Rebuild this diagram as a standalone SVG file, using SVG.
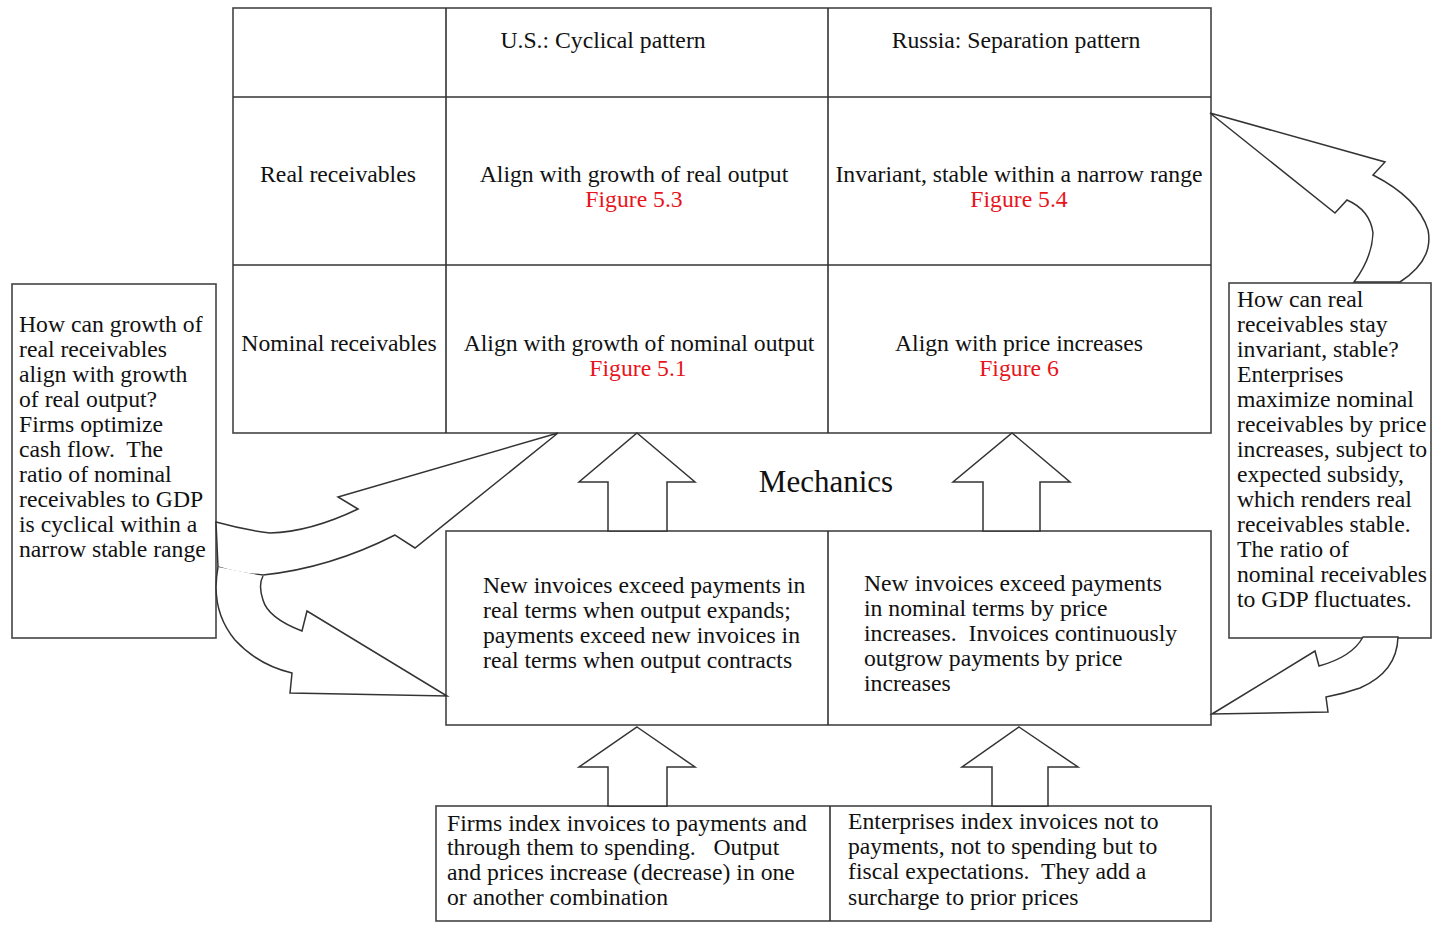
<svg xmlns="http://www.w3.org/2000/svg" width="1433" height="925" viewBox="0 0 1433 925">
<style>
.box{fill:#fff;stroke:#444;stroke-width:1.6}
.ln{stroke:#333;stroke-width:1.6;fill:none}
.arr{fill:#fff;stroke:#333;stroke-width:1.5;stroke-linejoin:miter}
text{font-family:"Liberation Serif","Times New Roman",serif;font-size:23.7px;fill:#111;white-space:pre}
.c{text-anchor:middle}
.red{fill:#e8141c}
.mech{font-size:31px}
</style>
<rect width="1433" height="925" fill="#fff"/>
<g id="table">
<rect class="box" x="233" y="8" width="978" height="425"/>
<line class="ln" x1="446" y1="8" x2="446" y2="433"/>
<line class="ln" x1="828" y1="8" x2="828" y2="433"/>
<line class="ln" x1="233" y1="97" x2="1211" y2="97"/>
<line class="ln" x1="233" y1="265" x2="1211" y2="265"/>
<text class="c" x="603" y="48">U.S.: Cyclical pattern</text>
<text class="c" x="1016" y="48">Russia: Separation pattern</text>
<text class="c" x="338" y="182">Real receivables</text>
<text class="c" x="634" y="182">Align with growth of real output</text>
<text class="c red" x="634" y="207">Figure 5.3</text>
<text class="c" x="1019" y="182">Invariant, stable within a narrow range</text>
<text class="c red" x="1019" y="207">Figure 5.4</text>
<text class="c" x="339" y="351">Nominal receivables</text>
<text class="c" x="639" y="351">Align with growth of nominal output</text>
<text class="c red" x="638" y="376">Figure 5.1</text>
<text class="c" x="1019" y="351">Align with price increases</text>
<text class="c red" x="1019" y="376">Figure 6</text>
</g>
<g id="mechanics">
<rect class="box" x="446" y="531" width="765" height="194"/>
<line class="ln" x1="828" y1="531" x2="828" y2="725"/>
<text class="c mech" x="826" y="492">Mechanics</text>
<text x="483" y="593">New invoices exceed payments in</text>
<text x="483" y="618">real terms when output expands;</text>
<text x="483" y="643">payments exceed new invoices in</text>
<text x="483" y="668">real terms when output contracts</text>
<text x="864" y="591">New invoices exceed payments</text>
<text x="864" y="616">in nominal terms by price</text>
<text x="864" y="641">increases.  Invoices continuously</text>
<text x="864" y="666">outgrow payments by price</text>
<text x="864" y="691">increases</text>
</g>
<g id="bottom">
<rect class="box" x="436" y="806" width="775" height="115"/>
<line class="ln" x1="830" y1="806" x2="830" y2="921"/>
<text x="447" y="831">Firms index invoices to payments and</text>
<text x="447" y="855">through them to spending.   Output</text>
<text x="447" y="880">and prices increase (decrease) in one</text>
<text x="447" y="905">or another combination</text>
<text x="848" y="829">Enterprises index invoices not to</text>
<text x="848" y="854">payments, not to spending but to</text>
<text x="848" y="879">fiscal expectations.  They add a</text>
<text x="848" y="905">surcharge to prior prices</text>
</g>
<g id="left-note">
<rect class="box" x="12" y="284" width="204" height="354"/>
<text x="19" y="332">How can growth of</text>
<text x="19" y="357">real receivables</text>
<text x="19" y="382">align with growth</text>
<text x="19" y="407">of real output?</text>
<text x="19" y="432">Firms optimize</text>
<text x="19" y="457">cash flow.  The</text>
<text x="19" y="482">ratio of nominal</text>
<text x="19" y="507">receivables to GDP</text>
<text x="19" y="532">is cyclical within a</text>
<text x="19" y="557">narrow stable range</text>
</g>
<g id="right-note">
<rect class="box" x="1229" y="283" width="202" height="355"/>
<text x="1237" y="307">How can real</text>
<text x="1237" y="332">receivables stay</text>
<text x="1237" y="357">invariant, stable?</text>
<text x="1237" y="382">Enterprises</text>
<text x="1237" y="407">maximize nominal</text>
<text x="1237" y="432">receivables by price</text>
<text x="1237" y="457">increases, subject to</text>
<text x="1237" y="482">expected subsidy,</text>
<text x="1237" y="507">which renders real</text>
<text x="1237" y="532">receivables stable.</text>
<text x="1237" y="557">The ratio of</text>
<text x="1237" y="582">nominal receivables</text>
<text x="1237" y="607">to GDP fluctuates.</text>
</g>
<g id="connectors">
<polygon class="arr" points="637,433 695,482 667,482 667,531 608,531 608,482 579,482"/>
<polygon class="arr" points="1012,433 1070,482 1040,482 1040,531 983,531 983,482 953,482"/>
<polygon class="arr" points="637,727 695,767 667,767 667,806 608,806 608,767 579,767"/>
<polygon class="arr" points="1019,727 1078,767 1048,767 1048,806 992,806 992,767 962,767"/>
<path class="arr" d="M216,522 Q245,530 270,533 Q310,532 358,509 L338,497 L558,433 L415,548 L395,535 Q330,568 263,575 Q240,574 218,567 Z"/>
<path class="arr" d="M218,567 Q210,610 235,640 Q258,665 292,673 L290,693 L447,696 L307,611 L302,631 Q268,618 263,600 Q258,585 263,576"/>
<path class="arr" d="M1210,113 L1385,162 L1373,175 Q1418,198 1428,230 Q1434,260 1400,282 L1354,282 Q1372,258 1373,233 Q1370,210 1347,200 L1335,213 Z"/>
<path class="arr" d="M1212,714 L1315,651 L1319,666 Q1352,657 1363,637 L1398,637 Q1397,672 1360,688 Q1343,694 1326,697 L1328,712 Z"/>
</g>
</svg>
